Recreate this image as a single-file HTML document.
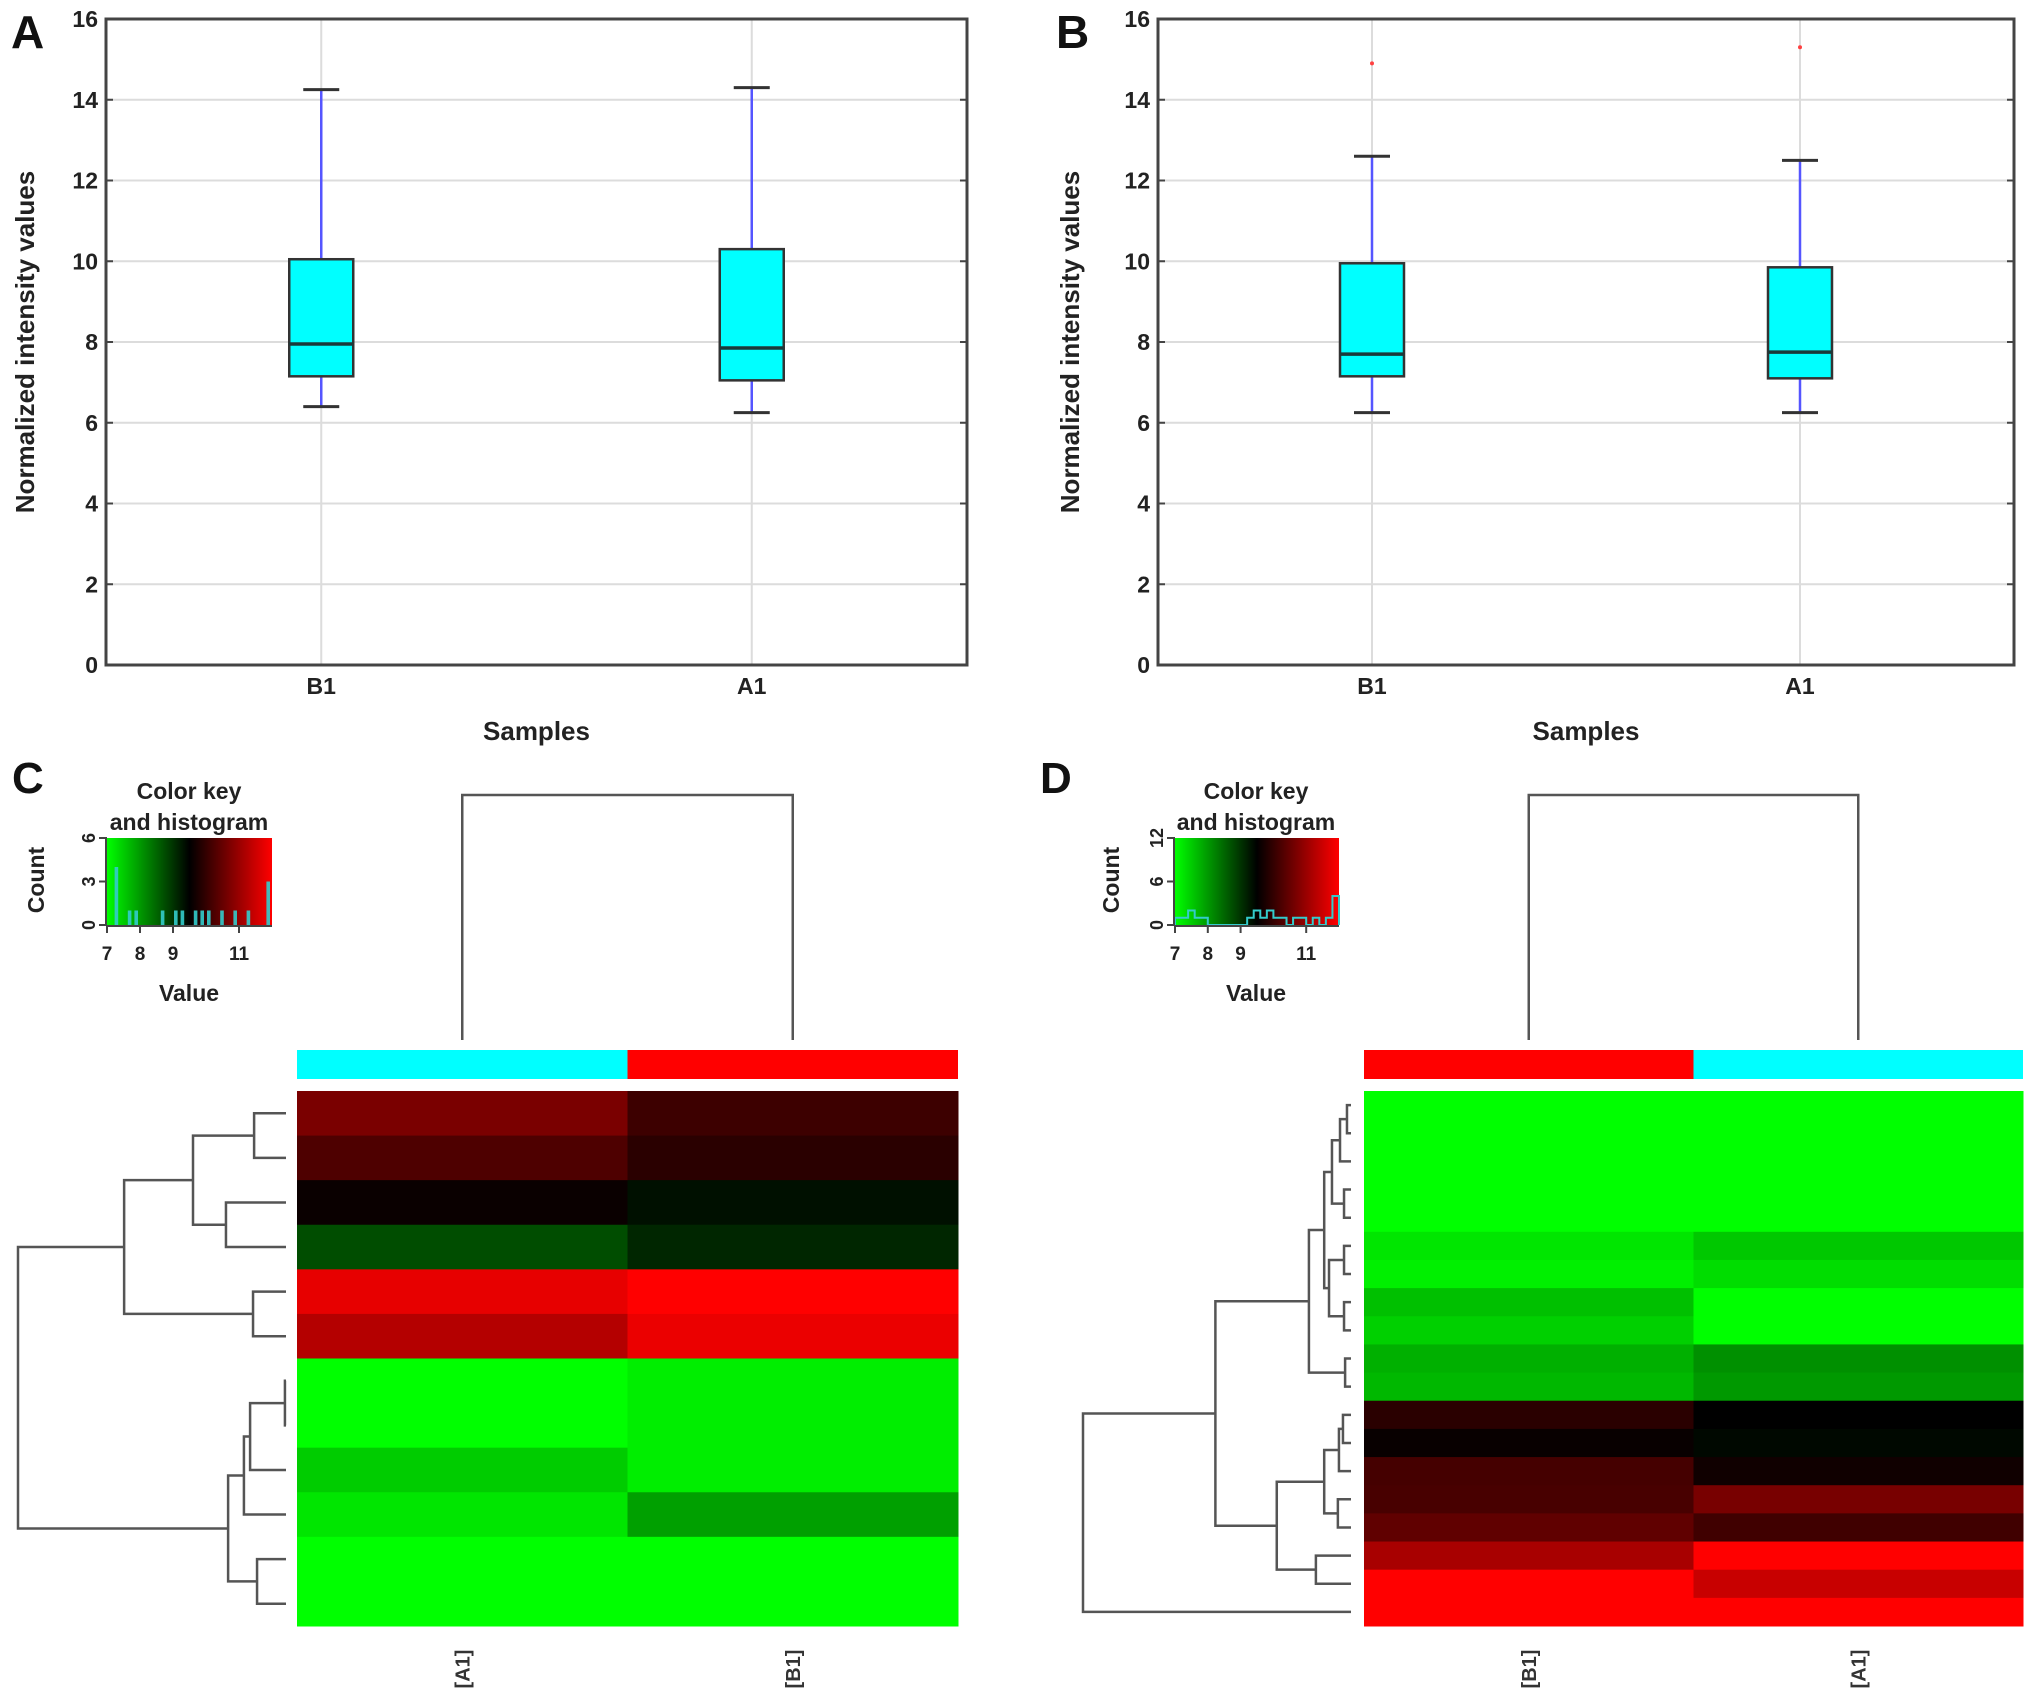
<!DOCTYPE html>
<html><head><meta charset="utf-8"><style>
html,body{margin:0;padding:0;background:#fff;}
svg{display:block;font-family:"Liberation Sans",Arial,sans-serif;}
</style></head><body>
<svg id="fig" width="2031" height="1696" viewBox="0 0 2031 1696" xmlns="http://www.w3.org/2000/svg"></svg>
<script>
// ---------- data ----------
const boxCats = ['B1','A1'];
const yTicks = [0,2,4,6,8,10,12,14,16];
// Panel A
const minA = [6.4, 6.25];
const q1A  = [7.15, 7.05];
const medA = [7.95, 7.85];
const q3A  = [10.05, 10.3];
const maxA = [14.25, 14.3];
// Panel B
const minB = [6.25, 6.25];
const q1B  = [7.15, 7.1];
const medB = [7.7, 7.75];
const q3B  = [9.95, 9.85];
const maxB = [12.6, 12.5];
const outB = [14.9, 15.3];
// Panel C heatmap (columns A1, B1)
const colsC = ['[A1]','[B1]'];
const colBarC = ['#00ffff','#ff0000'];
const valsC_A1 = [10.70,10.26,9.60,8.75,11.76,11.26,7.0,7.0,7.5,7.25,7.0,7.0];
const valsC_B1 = [10.10,9.91,9.34,9.13,12.0,11.8,7.17,7.17,7.17,7.93,7.0,7.0];
const mergesC = [[0,1,0.119],[2,3,0.224],[12,13,0.347],[4,5,0.123],[14,15,0.604],[6,7,0.004],[17,8,0.134],[18,9,0.157],[10,11,0.108],[19,20,0.216],[16,21,1.0]];
const histC = [0,4,0,1,1,0,0,0,1,0,1,1,0,1,1,1,0,1,0,1,0,1,0,0,3];
const countTicksC = [0,3,6];
// Panel D heatmap (columns B1, A1)
const colsD = ['[B1]','[A1]'];
const colBarD = ['#ff0000','#00ffff'];
const valsD_B1 = [7,7,7,7,7,7.25,7.15,7.62,7.46,7.77,7.7,9.91,9.58,10.18,10.21,10.44,11.15,12,12];
const valsD_A1 = [7,7,7,7,7,7.54,7.33,7.0,7.0,8.09,8.0,9.5,9.42,9.66,10.68,10.13,12,11.46,12];
const mergesD = [[0,1,0.015],[19,2,0.041],[3,4,0.026],[20,21,0.071],[5,6,0.026],[7,8,0.026],[23,24,0.082],[22,25,0.10],[9,10,0.022],[26,27,0.157],[11,12,0.03],[29,13,0.045],[14,15,0.049],[30,31,0.10],[16,17,0.131],[32,33,0.277],[28,34,0.506],[35,18,1.0]];
const histD = [1,1,2,1,1,0,0,0,0,0,0,1,2,1,2,1,1,0,1,1,0,1,0,1,4];
const countTicksD = [0,6,12];
const keyTicks = [7,8,9,11];

// ---------- helpers ----------
const NS='http://www.w3.org/2000/svg';
const svg=document.getElementById('fig');
function mk(tag,attrs,parent,text){const e=document.createElementNS(NS,tag);for(const k in attrs)e.setAttribute(k,attrs[k]);if(text!==undefined)e.textContent=text;(parent||svg).appendChild(e);return e;}
function colorOf(v){const lo=7,mid=9.5,hi=12;let r=0,g=0;if(v>=mid){r=Math.min(1,(v-mid)/(hi-mid));}else{g=Math.min(1,(mid-v)/(mid-lo));}return 'rgb('+Math.round(r*255)+','+Math.round(g*255)+',0)';}

function boxPanel2(x0,x1,lx,ytx,mins,q1s,meds,q3s,maxs,outs,letter){
  const top=19,bot=665;
  const g=mk('g',{});
  
  
  const y=v=>bot+(top-bot)*(v/16);
  const xs=[x0+(x1-x0)*0.25,x0+(x1-x0)*0.75];
  yTicks.forEach(t=>{
    if(t>0&&t<16){const l=mk('line',{x1:x0,x2:x1,y1:y(t),y2:y(t),stroke:'#dcdcdc','stroke-width':2},g);}
    const tk=mk('text',{x:x0-8,y:y(t)+8,'text-anchor':'end','font-size':23,'font-weight':'bold',fill:'#222'},g,String(t));
    
    mk('line',{x1:x0,x2:x0+7,y1:y(t),y2:y(t),stroke:'#444','stroke-width':2},g);
    mk('line',{x1:x1-7,x2:x1,y1:y(t),y2:y(t),stroke:'#444','stroke-width':2},g);
  });
  xs.forEach((x,i)=>{
    const gl=mk('line',{x1:x,x2:x,y1:top,y2:bot,stroke:'#dcdcdc','stroke-width':2},g);
    
    const bw=32,cw=18;
    const wh=mk('line',{x1:x,x2:x,y1:y(maxs[i]),y2:y(q3s[i]),stroke:'#5555ff','stroke-width':2.5},g);
    
    const wl=mk('line',{x1:x,x2:x,y1:y(q1s[i]),y2:y(mins[i]),stroke:'#5555ff','stroke-width':2.5},g);
    
    mk('line',{x1:x-cw,x2:x+cw,y1:y(maxs[i]),y2:y(maxs[i]),stroke:'#333','stroke-width':3},g);
    mk('line',{x1:x-cw,x2:x+cw,y1:y(mins[i]),y2:y(mins[i]),stroke:'#333','stroke-width':3},g);
    const bx=mk('rect',{x:x-bw,y:y(q3s[i]),width:2*bw,height:y(q1s[i])-y(q3s[i]),fill:'#00ffff',stroke:'#333','stroke-width':2.5},g);
    
    const md=mk('line',{x1:x-bw,x2:x+bw,y1:y(meds[i]),y2:y(meds[i]),stroke:'#1a3a3a','stroke-width':3.5},g);
    
    if(outs){const o=mk('circle',{cx:x,cy:y(outs[i]),r:2,fill:'#ff4040'},g);}
    const xl=mk('text',{x:x,y:bot+29,'text-anchor':'middle','font-size':23,'font-weight':'bold',fill:'#222'},g,boxCats[i]);
    
  });
  const fr=mk('rect',{x:x0,y:top,width:x1-x0,height:bot-top,fill:'none',stroke:'#444','stroke-width':3},g);
  
  const yt=mk('text',{x:0,y:0,transform:'translate('+ytx+','+((top+bot)/2)+') rotate(-90)','text-anchor':'middle','font-size':26,'font-weight':'bold',fill:'#222'},g,'Normalized intensity values');
  
  const xt=mk('text',{x:(x0+x1)/2,y:740,'text-anchor':'middle','font-size':26,'font-weight':'bold',fill:'#222'},g,'Samples');
  
  const pl=mk('text',{x:lx,y:48,'font-size':46,'font-weight':'bold',fill:'#111'},g,letter);
  
}
boxPanel2(106,967,11,34,minA,q1A,medA,q3A,maxA,null,'A');
boxPanel2(1158,2014,1056,1079,minB,q1B,medB,q3B,maxB,outB,'B');

// ---------- heatmaps ----------
function heatPanel(o){
  const g=mk('g',{});
  
  
  const n=o.v0.length, rh=(o.y1-o.y0)/n, cw=(o.x1-o.x0)/2;
  const cols=[o.v0,o.v1];
  cols.forEach((vals,c)=>{
    vals.forEach((v,r)=>{
      const cell=mk('rect',{x:o.x0+c*cw,y:o.y0+r*rh,width:cw+0.5,height:rh+0.5,fill:colorOf(v)},g);
      
      
    });
    const cb=mk('rect',{x:o.x0+c*cw,y:1050,width:cw,height:29,fill:o.bar[c]},g);
    
    const cx=o.x0+(c+0.5)*cw;
    const lb=mk('text',{x:0,y:0,transform:'translate('+(cx+7)+',1669) rotate(-90)','text-anchor':'middle','font-size':20,'font-weight':'bold',fill:'#333'},g,o.cols[c]);
    
  });
  const c0=o.x0+0.5*cw,c1=o.x0+1.5*cw;
  const td=mk('path',{d:'M'+c0+' 1040V795H'+c1+'V1040',fill:'none',stroke:'#555','stroke-width':2.5},g);
  
  const pos=[],hts=[];
  for(let i=0;i<n;i++){pos.push(o.y0+(i+0.5)*rh);hts.push(0);}
  const X=h=>o.leafX-h*(o.leafX-o.rootX);
  let d='';
  o.merges.forEach(m=>{
    const a=m[0],b=m[1],h=m[2];
    const xh=X(h);
    d+='M'+X(hts[a])+' '+pos[a]+'H'+xh+'V'+pos[b]+'H'+X(hts[b]);
    pos.push((pos[a]+pos[b])/2);hts.push(h);
  });
  const rd=mk('path',{d:d,fill:'none',stroke:'#555','stroke-width':2.5},g);
  
  const k=o.key;
  const gid='grad'+o.letter;
  const defs=mk('defs',{},g);
  const lg=mk('linearGradient',{id:gid,x1:0,x2:1,y1:0,y2:0},defs);
  mk('stop',{offset:'0','stop-color':'#00ff00'},lg);
  mk('stop',{offset:'0.5','stop-color':'#000'},lg);
  mk('stop',{offset:'1','stop-color':'#ff0000'},lg);
  const kr=mk('rect',{x:k.x0,y:838,width:k.x1-k.x0,height:87,fill:'url(#'+gid+')'},g);
  
  const kx=v=>k.x0+(v-7)/5*(k.x1-k.x0);
  const ky=c=>925-c/o.cmax*87;
  const bw=0.2;
  if(o.step){
    let pd='M'+kx(7)+' '+ky(0);
    o.hist.forEach((c,i)=>{pd+='V'+ky(c)+'H'+kx(7+(i+1)*bw);});
    pd+='V'+ky(0);
    const hp=mk('path',{d:pd,fill:'none',stroke:'#33cccc','stroke-width':2},g);
    
  } else {
    o.hist.forEach((c,i)=>{ if(c>0){
      const hb=mk('rect',{x:kx(7+i*bw)+1,y:ky(c),width:kx(7+bw)-kx(7)-3,height:ky(0)-ky(c),fill:'#33cccc',opacity:0.9},g);
      }});
  }
  mk('line',{x1:k.x0,x2:k.x1,y1:926,y2:926,stroke:'#444','stroke-width':2},g);
  mk('line',{x1:k.x0-1,x2:k.x0-1,y1:838,y2:926,stroke:'#444','stroke-width':2},g);
  o.cticks.forEach(c=>{
    mk('line',{x1:k.x0-8,x2:k.x0,y1:ky(c),y2:ky(c),stroke:'#444','stroke-width':2},g);
    const t=mk('text',{x:0,y:0,transform:'translate('+(k.x0-12)+','+ky(c)+') rotate(-90)','text-anchor':'middle','font-size':18,'font-weight':'bold',fill:'#222'},g,String(c));
    
  });
  keyTicks.forEach(v=>{
    mk('line',{x1:kx(v),x2:kx(v),y1:926,y2:933,stroke:'#444','stroke-width':2},g);
    const t=mk('text',{x:kx(v),y:960,'text-anchor':'middle','font-size':19,'font-weight':'bold',fill:'#222'},g,String(v));
    
  });
  const t1=mk('text',{x:k.tx,y:799,'text-anchor':'middle','font-size':23,'font-weight':'bold',fill:'#222'},g,'Color key');
  
  const t2=mk('text',{x:k.tx,y:830,'text-anchor':'middle','font-size':23,'font-weight':'bold',fill:'#222'},g,'and histogram');
  
  const t3=mk('text',{x:k.tx,y:1001,'text-anchor':'middle','font-size':23,'font-weight':'bold',fill:'#222'},g,'Value');
  
  const t4=mk('text',{x:0,y:0,transform:'translate('+(k.cx+8)+',880) rotate(-90)','text-anchor':'middle','font-size':23,'font-weight':'bold',fill:'#222'},g,'Count');
  
  const pl=mk('text',{x:o.lx,y:793,'font-size':44,'font-weight':'bold',fill:'#111'},g,o.letter);
  
}
heatPanel({letter:'C',x0:297,x1:958,y0:1091,y1:1626,v0:valsC_A1,v1:valsC_B1,cols:colsC,bar:colBarC,merges:mergesC,leafX:286,rootX:18,
  key:{x0:107,x1:272,tx:189,cx:36},hist:histC,cmax:6,cticks:countTicksC,step:false,lx:12});
heatPanel({letter:'D',x0:1364,x1:2023,y0:1091,y1:1626,v0:valsD_B1,v1:valsD_A1,cols:colsD,bar:colBarD,merges:mergesD,leafX:1351,rootX:1083,
  key:{x0:1175,x1:1339,tx:1256,cx:1111},hist:histD,cmax:12,cticks:countTicksD,step:true,lx:1040});
</script>
</body></html>
